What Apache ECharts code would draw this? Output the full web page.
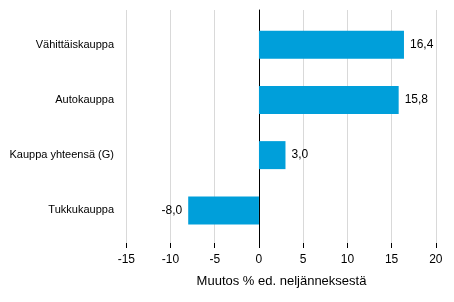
<!DOCTYPE html>
<html>
<head>
<meta charset="utf-8">
<script src="https://cdn.jsdelivr.net/npm/echarts@6/dist/echarts.min.js"></script>
<style>
  html, body { margin: 0; padding: 0; background: #fff; }
  #chart { width: 454px; height: 302px; }
</style>
</head>
<body>
<div id="chart"></div>
<script>
// Data
const categories = ['Vähittäiskauppa', 'Autokauppa', 'Kauppa yhteensä (G)', 'Tukkukauppa'];
const values = [16.4, 15.8, 3.0, -8.0];
const tickValues = [-15, -10, -5, 0, 5, 10, 15, 20];
const axisTitle = 'Muutos % ed. neljänneksestä';

const FONT = 'Liberation Sans, Arial, sans-serif';
const X_MIN = -15.6;
const X_MAX = 20.7;

const chart = echarts.init(document.getElementById('chart'));

const barData = values.map(v => ({
    value: v,
    label: { position: v < 0 ? 'left' : 'right' }
}));

const option = {
    animation: false,
    textStyle: { fontFamily: FONT },
    grid: [
        // bars
        { left: 121, width: 321, top: 17, height: 221 },
        // frame: gridlines, zero line, bottom axis
        { left: 121, width: 321, top: 10, height: 233 }
    ],
    xAxis: [
        { gridIndex: 0, type: 'value', min: X_MIN, max: X_MAX, show: false },
        {
            gridIndex: 1,
            type: 'value',
            min: X_MIN,
            max: X_MAX,
            name: axisTitle,
            nameLocation: 'middle',
            nameGap: 32,
            nameTextStyle: { color: '#000', fontSize: 13, fontFamily: FONT },
            axisLine: { onZero: false, lineStyle: { color: '#000', width: 1 } },
            axisTick: { show: true, length: 5, customValues: tickValues, lineStyle: { color: '#000' } },
            axisLabel: { customValues: tickValues, color: '#000', fontSize: 12, margin: 11, fontFamily: FONT },
            splitLine: { show: true, lineStyle: { color: '#d9d9d9', width: 1 } }
        }
    ],
    yAxis: [
        {
            gridIndex: 0,
            type: 'category',
            data: categories,
            inverse: true,
            axisLine: { show: false, onZero: false },
            axisTick: { show: false },
            axisLabel: { color: '#000', fontSize: 11, margin: 7, fontFamily: FONT }
        },
        {
            gridIndex: 1,
            type: 'category',
            data: [''],
            axisLine: { show: true, onZero: true, lineStyle: { color: '#000', width: 1 } },
            axisTick: { show: false },
            axisLabel: { show: false },
            splitLine: { show: false }
        }
    ],
    series: [
        {
            type: 'bar',
            xAxisIndex: 0,
            yAxisIndex: 0,
            data: barData,
            barWidth: 28,
            itemStyle: { color: '#009FDA' },
            label: {
                show: true,
                distance: 6,
                color: '#000',
                fontSize: 12,
                fontFamily: FONT,
                formatter: p => p.value.toFixed(1).replace('.', ',')
            }
        }
    ]
};

chart.setOption(option);
</script>
</body>
</html>
